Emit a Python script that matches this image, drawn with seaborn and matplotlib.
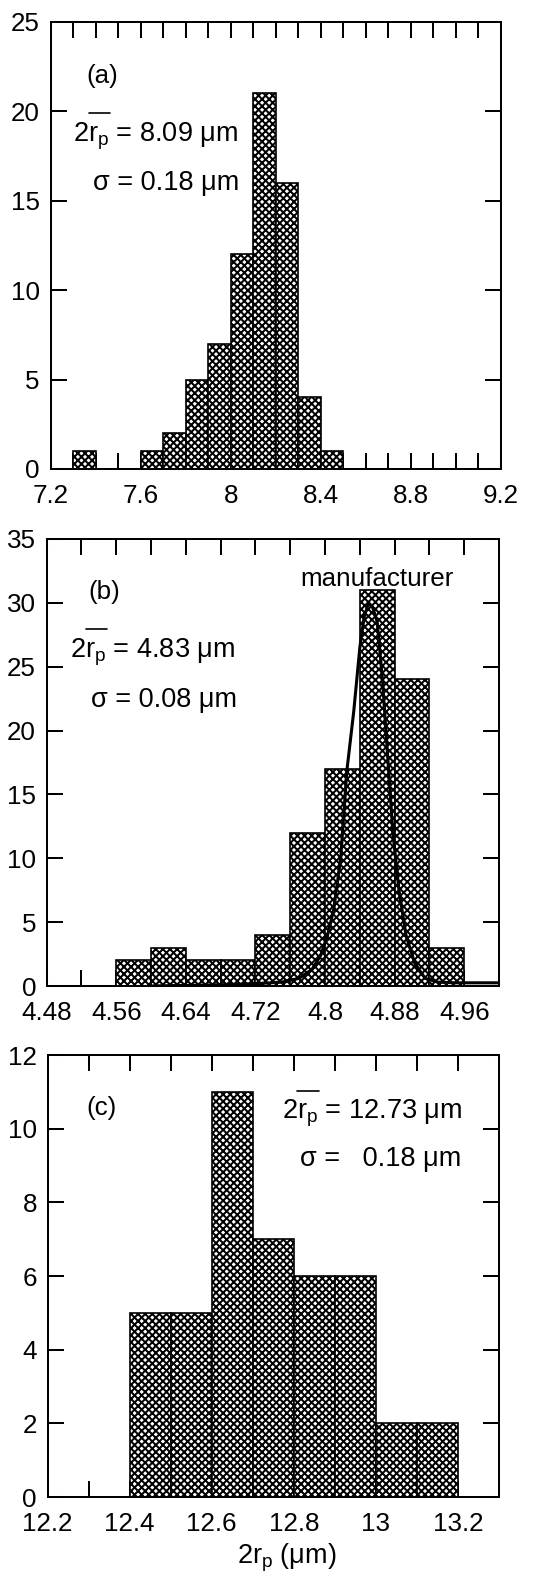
import numpy as np
import pandas as pd
import matplotlib
matplotlib.use("Agg")
import matplotlib.pyplot as plt
import seaborn as sns
from matplotlib.lines import Line2D
from matplotlib.font_manager import FontProperties
from matplotlib.ticker import MultipleLocator, FormatStrFormatter

# ---------------- data ----------------
# (a) particle diameters, 0.1 um bins (left edges) and counts
a_bin_left = [7.3, 7.4, 7.5, 7.6, 7.7, 7.8, 7.9, 8.0, 8.1, 8.2, 8.3, 8.4]
a_counts = [1, 0, 0, 1, 2, 5, 7, 12, 21, 16, 4, 1]
a_bin_width = 0.1

# (b) particle diameters, 0.04 um bins
b_bin_left = [4.56, 4.60, 4.64, 4.68, 4.72, 4.76, 4.80, 4.84, 4.88, 4.92]
b_counts = [2, 3, 2, 2, 4, 12, 17, 31, 24, 3]
b_bin_width = 0.04

# manufacturer's size distribution for (b)
maker_x = [4.60, 4.64, 4.68, 4.72, 4.75, 4.77, 4.785, 4.795, 4.803, 4.81,
           4.818, 4.825, 4.833, 4.840, 4.845, 4.850, 4.855, 4.860, 4.866,
           4.872, 4.878, 4.885, 4.893, 4.903, 4.915, 4.93, 4.95, 5.0]
maker_y = [0.0, 0.05, 0.1, 0.18, 0.3, 0.6, 1.3, 2.4, 4.0, 6.0,
           10.0, 16.8, 21.5, 26.5, 28.9, 30.0, 29.6, 28.5, 24.0,
           18.0, 12.0, 7.5, 4.0, 1.8, 0.6, 0.3, 0.25, 0.25]

# (c) particle diameters, 0.1 um bins
c_bin_left = [12.4, 12.5, 12.6, 12.7, 12.8, 12.9, 13.0, 13.1]
c_counts = [5, 5, 11, 7, 6, 6, 2, 2]
c_bin_width = 0.1

# ---------------- style ----------------
DPI = 85
W, H = 551, 1577
sns.set_style("ticks")
plt.rcParams["font.family"] = ["Liberation Sans", "DejaVu Sans"]
plt.rcParams["mathtext.fontset"] = "custom"
plt.rcParams["mathtext.rm"] = "Liberation Sans"
plt.rcParams["mathtext.it"] = "Liberation Sans"
plt.rcParams["mathtext.bf"] = "Liberation Sans:bold"
plt.rcParams["hatch.linewidth"] = 1.7
plt.rcParams["axes.linewidth"] = 1.7

TICK_SIZE = 22
NOTE_SIZE = 23

fig = plt.figure(figsize=(W / DPI, H / DPI), dpi=DPI)
fig.patch.set_facecolor("white")
renderer = fig.canvas.get_renderer()


def px_axes(left, top, right, bottom):
    return fig.add_axes([left / W, 1 - bottom / H, (right - left) / W, (bottom - top) / H])


def px_text(x, y, s, size, va="baseline"):
    return fig.text(x / W, 1 - y / H, s, fontsize=size, ha="left", va=va, color="black")


def text_width(s, size):
    prop = FontProperties(family=["Liberation Sans", "DejaVu Sans"], size=size)
    w, _, _ = renderer.get_text_width_height_descent(s, prop, ismath=("$" in s))
    return w


def mean_text(x, y, rest, size):
    """'2r_p' with a bar over r_p, followed by the value text."""
    px_text(x, y, r"$2r_p$" + rest, size)
    w2 = text_width("2", size)
    w2rp = text_width(r"$2r_p$", size)
    x0 = x + w2 + 0.5
    x1 = x + w2rp + 1.0
    cap = 0.716 * size * DPI / 72
    yb = y - 1.42 * cap
    fig.add_artist(Line2D([x0 / W, x1 / W], [1 - yb / H, 1 - yb / H],
                          transform=fig.transFigure, color="black", lw=1.4))


def hist_panel(ax, left_edges, counts, width):
    left = [float(v) for v in left_edges]
    edges = left + [left[-1] + width]
    df = pd.DataFrame({"size": [v + width / 2 for v in left],
                       "count": [float(c) for c in counts]})
    sns.histplot(data=df, x="size", weights="count", bins=edges, ax=ax,
                 color="white", edgecolor="black", linewidth=1.4,
                 hatch="xxxx", alpha=1.0, stat="count", fill=True)
    ax.set_xlabel("")
    ax.set_ylabel("")


def style_axes(ax, xlim, xmaj, xmin, ylim, ymaj):
    ax.set_xlim(*xlim)
    ax.set_ylim(*ylim)
    ax.xaxis.set_major_locator(MultipleLocator(xmaj))
    ax.xaxis.set_minor_locator(MultipleLocator(xmin))
    ax.yaxis.set_major_locator(MultipleLocator(ymaj))
    ax.yaxis.set_minor_locator(plt.NullLocator())
    ax.xaxis.set_major_formatter(FormatStrFormatter("%g"))
    ax.yaxis.set_major_formatter(FormatStrFormatter("%g"))
    ax.tick_params(which="both", direction="in", top=True, right=True,
                   length=13.5, width=1.7, labelsize=TICK_SIZE, colors="black")
    ax.tick_params(axis="x", which="both", pad=13)
    ax.tick_params(axis="y", which="both", pad=9)
    for sp in ax.spines.values():
        sp.set_visible(True)
        sp.set_color("black")
        sp.set_linewidth(1.7)


# ---------------- (a) ----------------
ax_a = px_axes(50.5, 21.7, 501, 469)
hist_panel(ax_a, a_bin_left, a_counts, a_bin_width)
style_axes(ax_a, (7.2, 9.2), 0.4, 0.1, (0, 25), 5)
px_text(86, 75.7, "(a)", 22, va="center")
mean_text(73, 141, " = 8.09 μm", NOTE_SIZE)
px_text(93, 190, "σ = 0.18 μm", NOTE_SIZE)

# ---------------- (b) ----------------
ax_b = px_axes(46.7, 539, 499, 986)
hist_panel(ax_b, b_bin_left, b_counts, b_bin_width)
sns.lineplot(x=maker_x, y=maker_y, ax=ax_b, color="black", linewidth=2.6)
style_axes(ax_b, (4.48, 5.0), 0.08, 0.04, (0, 35), 5)
px_text(88, 591.7, "(b)", 22, va="center")
px_text(300, 585.7, "manufacturer", 22)
mean_text(70, 657, " = 4.83 μm", NOTE_SIZE)
px_text(91, 706.7, "σ = 0.08 μm", NOTE_SIZE)

# ---------------- (c) ----------------
ax_c = px_axes(47.5, 1055, 499, 1497)
hist_panel(ax_c, c_bin_left, c_counts, c_bin_width)
style_axes(ax_c, (12.2, 13.3), 0.2, 0.1, (0, 12), 2)
px_text(86, 1108, "(c)", 22, va="center")
mean_text(281.7, 1118.3, " = 12.73 μm", NOTE_SIZE)
px_text(300, 1166, "σ =   0.18 μm", NOTE_SIZE)
px_text(237, 1563, r"$2r_p$ (μm)", NOTE_SIZE)

fig.savefig("out.png", dpi=DPI, facecolor="white")
